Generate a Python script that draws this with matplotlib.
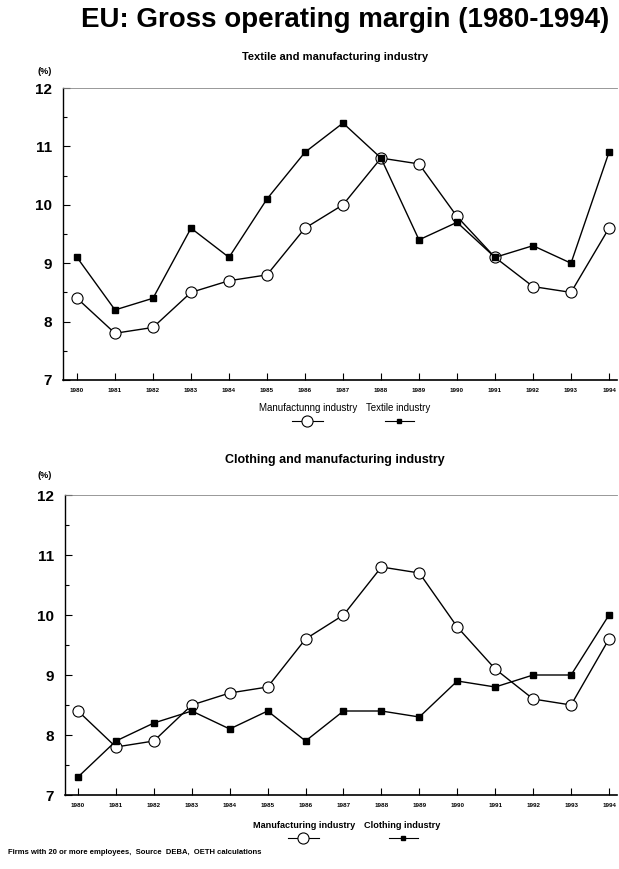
import matplotlib.pyplot as plt
from matplotlib.lines import Line2D

plt.rcParams['font.family'] = ['Liberation Sans', 'DejaVu Sans']

years = list(range(1980, 1995))
year_labels = [str(y) for y in years]
manufacturing = [8.4, 7.8, 7.9, 8.5, 8.7, 8.8, 9.6, 10.0, 10.8, 10.7, 9.8, 9.1, 8.6, 8.5, 9.6]
textile = [9.1, 8.2, 8.4, 9.6, 9.1, 10.1, 10.9, 11.4, 10.8, 9.4, 9.7, 9.1, 9.3, 9.0, 10.9]
clothing = [7.3, 7.9, 8.2, 8.4, 8.1, 8.4, 7.9, 8.4, 8.4, 8.3, 8.9, 8.8, 9.0, 9.0, 10.0]

W, H = 619, 869
fig = plt.figure(figsize=(W / 100, H / 100), dpi=100)


def px_axes(left, top, right, bottom):
    return fig.add_axes([left / W, 1 - bottom / H, (right - left) / W, (bottom - top) / H])


def style_axes(ax, x_first, x_last, px_per_year, left_px, right_px):
    ax.set_ylim(7, 12)
    ax.set_xlim(1980 - (x_first - left_px) / px_per_year, 1994 + (right_px - x_last) / px_per_year)
    ax.set_yticks([7, 8, 9, 10, 11, 12])
    ax.set_yticks([7.5, 8.5, 9.5, 10.5, 11.5], minor=True)
    ax.set_xticks(years)
    ax.set_xticklabels(year_labels, fontsize=4.5, fontweight='bold')
    ax.tick_params(axis='y', which='both', direction='in', labelsize=11, width=0.8, pad=8)
    ax.tick_params(axis='y', which='major', length=5)
    ax.tick_params(axis='y', which='minor', length=3)
    ax.tick_params(axis='x', direction='in', length=5, width=0.8, pad=6)
    for lab in ax.get_yticklabels():
        lab.set_fontweight('bold')
    ax.spines['right'].set_visible(False)
    ax.spines['top'].set_color('#888888')
    ax.spines['top'].set_linewidth(0.6)
    ax.spines['left'].set_linewidth(1.0)
    ax.spines['bottom'].set_linewidth(1.2)


def px(x, y):
    return x / W, 1 - y / H


def draw_legend(y_text, y_mark, label1, label2, text1_right, text2_left, circ, sq, weight, size):
    fig.text(*px(text1_right, y_text), label1, ha='right', va='center', fontsize=size, fontweight=weight)
    fig.text(*px(text2_left, y_text), label2, ha='left', va='center', fontsize=size, fontweight=weight)
    ym = 1 - y_mark / H
    fig.add_artist(Line2D([(circ - 15) / W, (circ + 16) / W], [ym, ym], color='black', lw=0.8,
                          transform=fig.transFigure))
    fig.add_artist(Line2D([circ / W], [ym], color='black', marker='o', mfc='white',
                          markersize=8, mew=0.8, transform=fig.transFigure))
    fig.add_artist(Line2D([(sq - 14) / W, (sq + 15) / W], [ym, ym], color='black', lw=0.8,
                          transform=fig.transFigure))
    fig.add_artist(Line2D([sq / W], [ym], color='black', marker='s',
                          markersize=3.5, transform=fig.transFigure))


# top panel: textile vs manufacturing
ax1 = px_axes(63, 88, 617, 380)
ax1.plot(years, manufacturing, color='black', lw=1.0, marker='o', mfc='white', mec='black',
         markersize=8, mew=0.8)
ax1.plot(years, textile, color='black', lw=1.0, marker='s', markersize=4)
style_axes(ax1, 77, 609, 38.0, 63, 617)

# bottom panel: clothing vs manufacturing
ax2 = px_axes(65, 495, 617, 795)
ax2.plot(years, manufacturing, color='black', lw=1.0, marker='o', mfc='white', mec='black',
         markersize=8, mew=0.8)
ax2.plot(years, clothing, color='black', lw=1.0, marker='s', markersize=4)
style_axes(ax2, 78, 609, 37.93, 65, 617)

fig.text(*px(345, 20), 'EU: Gross operating margin (1980-1994)', ha='center', va='center',
         fontsize=20, fontweight='bold')
fig.text(*px(335, 57), 'Textile and manufacturing industry', ha='center', va='center',
         fontsize=8, fontweight='bold')
fig.text(*px(38, 71), '(%)', ha='left', va='center', fontsize=6.5, fontweight='bold')
fig.text(*px(335, 460), 'Clothing and manufacturing industry', ha='center', va='center',
         fontsize=9, fontweight='bold')
fig.text(*px(38, 475), '(%)', ha='left', va='center', fontsize=6.5, fontweight='bold')

draw_legend(408, 421, 'Manufactunng industry', 'Textile industry', 357, 366, 307, 399, 'normal', 7)
draw_legend(825, 838, 'Manufacturing industry', 'Clothing industry', 355, 364, 303, 403, 'bold', 6.6)

fig.text(*px(8, 853), 'Firms with 20 or more employees,  Source  DEBA,  OETH calculations',
         ha='left', va='center', fontsize=5.5, fontweight='bold')

fig.savefig('out.png', dpi=100)
